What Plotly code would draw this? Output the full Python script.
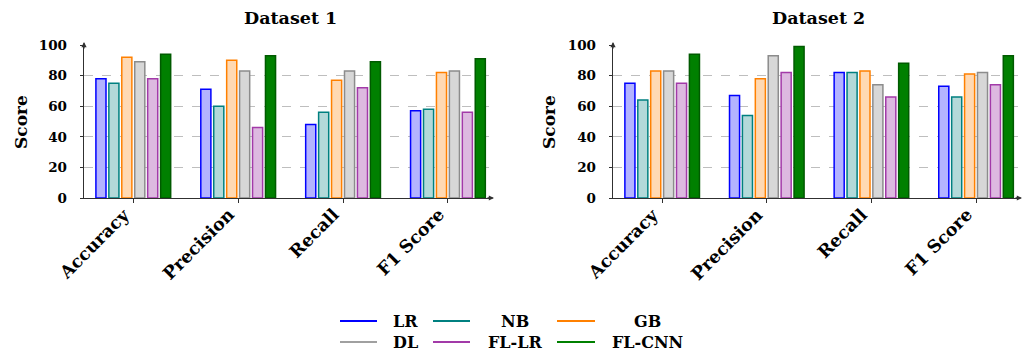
import plotly.graph_objects as go

categories = ["Accuracy", "Precision", "Recall", "F1 Score"]
models = ["LR", "NB", "GB", "DL", "FL-LR", "FL-CNN"]

ds1_LR = [78, 71, 48, 57]
ds1_NB = [75, 60, 56, 58]
ds1_GB = [92, 90, 77, 82]
ds1_DL = [89, 83, 83, 83]
ds1_FLLR = [78, 46, 72, 56]
ds1_FLCNN = [94, 93, 89, 91]

ds2_LR = [75, 67, 82, 73]
ds2_NB = [64, 54, 82, 66]
ds2_GB = [83, 78, 83, 81]
ds2_DL = [83, 93, 74, 82]
ds2_FLLR = [75, 82, 66, 74]
ds2_FLCNN = [94, 99, 88, 93]

y_ticks = [0, 20, 40, 60, 80, 100]

border_colors = ["#0000ff", "#008080", "#ff8000", "#8c8c8c", "#a23aa8", "#005a00"]
fill_colors = ["rgb(179,179,255)", "rgb(179,217,217)", "rgb(255,217,179)",
               "rgb(215,215,215)", "rgb(221,185,224)", "rgb(0,128,0)"]
legend_colors = ["#0000ff", "#008080", "#ff8000", "#a0a0a0", "#a23aa8", "#008000"]

ds1 = [ds1_LR, ds1_NB, ds1_GB, ds1_DL, ds1_FLLR, ds1_FLCNN]
ds2 = [ds2_LR, ds2_NB, ds2_GB, ds2_DL, ds2_FLLR, ds2_FLCNN]

FONT = "DejaVu Serif"
W, H = 1030, 356
AXC = "#303030"

fig = go.Figure()
for data, xa, ya in [(ds1, "x", "y"), (ds2, "x2", "y2")]:
    for i, m in enumerate(models):
        fig.add_trace(go.Bar(
            x=categories, y=data[i], name=m, xaxis=xa, yaxis=ya,
            marker=dict(color=fill_colors[i], line=dict(color=border_colors[i], width=1.5)),
            showlegend=False,
        ))

def px_x(p):
    return p / W

def px_y(p):
    return 1 - p / H

dom1 = [px_x(84), px_x(492)]
dom2 = [px_x(613), px_x(1020)]
ydom = [px_y(198), px_y(45)]

xcommon = dict(
    type="category", range=[-0.47, 3.42], showline=True, linecolor=AXC, linewidth=1.3,
    ticks="outside", ticklen=4, tickcolor=AXC, showticklabels=False, automargin=False,
    showgrid=False, zeroline=False, fixedrange=True,
)
ycommon = dict(
    range=[0, 100], tickvals=y_ticks, showline=True, linecolor=AXC, linewidth=1.3,
    ticks="outside", ticklen=3, tickcolor=AXC,
    tickfont=dict(family=FONT, size=13.5, color="black", weight="bold"),
    showgrid=True, gridcolor="rgb(190,190,190)", griddash="dash", gridwidth=1,
    zeroline=False, ticklabelstandoff=10, fixedrange=True, automargin=False,
)

fig.update_layout(
    width=W, height=H, autosize=False,
    margin=dict(l=0, r=0, t=0, b=0, pad=0),
    paper_bgcolor="white", plot_bgcolor="white",
    barmode="group", bargap=0.26, bargroupgap=0.22,
    showlegend=False,
    xaxis=dict(domain=dom1, anchor="y", **xcommon),
    yaxis=dict(domain=ydom, anchor="x", **ycommon),
    xaxis2=dict(domain=dom2, anchor="y2", **xcommon),
    yaxis2=dict(domain=ydom, anchor="x2", **ycommon),
)

annotations = []
shapes = []
# rotated category labels
for xr, yr in [("x", "y"), ("x2", "y2")]:
    for cat in categories:
        annotations.append(dict(x=cat, y=0, xref=xr, yref=yr, text=cat, textangle=-45,
                                xanchor="right", yanchor="top", xshift=3, yshift=-4,
                                showarrow=False,
                                font=dict(family=FONT, size=17.5, color="black", weight="bold")))

# titles and y-axis labels
for cx, label, sx in [(290, "Dataset 1", 21), (818, "Dataset 2", 549)]:
    annotations.append(dict(x=px_x(cx), y=px_y(18), xref="paper", yref="paper", text=label,
                            xanchor="center", yanchor="middle",
                            showarrow=False, font=dict(family=FONT, size=17.5, color="black", weight="bold")))
    annotations.append(dict(x=px_x(sx), y=px_y(122), xref="paper", yref="paper", text="Score",
                            xanchor="center", yanchor="middle",
                            textangle=-90, showarrow=False,
                            font=dict(family=FONT, size=17, color="black", weight="bold")))

# axis arrowheads
for (x0, x1) in [(84, 492), (613, 1020)]:
    annotations.append(dict(x=px_x(x1 + 2), y=px_y(198), ax=-8, ay=0,
                            xref="paper", yref="paper", axref="pixel", ayref="pixel", text="",
                            showarrow=True, arrowhead=2, arrowsize=0.8, arrowwidth=1.3, arrowcolor=AXC))
    annotations.append(dict(x=px_x(x0), y=px_y(42), ax=0, ay=8,
                            xref="paper", yref="paper", axref="pixel", ayref="pixel", text="",
                            showarrow=True, arrowhead=2, arrowsize=0.8, arrowwidth=1.3, arrowcolor=AXC))

# legend (3 columns x 2 rows) with line samples
col_line_x = [(340, 377), (433, 470), (557, 595)]
col_text_x = [405, 515, 647]
row_y = [321, 342]
for i, m in enumerate(models):
    r, c = divmod(i, 3)
    lx0, lx1 = col_line_x[c]
    shapes.append(dict(type="line", xref="paper", yref="paper",
                       x0=px_x(lx0), x1=px_x(lx1), y0=px_y(row_y[r]), y1=px_y(row_y[r]),
                       line=dict(color=legend_colors[i], width=1.8)))
    annotations.append(dict(x=px_x(col_text_x[c]), y=px_y(row_y[r]), xref="paper", yref="paper",
                            text=m, showarrow=False, xanchor="center", yanchor="middle",
                            font=dict(family=FONT, size=16, color="black", weight="bold")))

fig.update_layout(annotations=annotations, shapes=shapes)
fig.write_html("out.html", config={"displayModeBar": False, "staticPlot": True},
               post_script="document.body.style.margin='0';document.body.style.overflow='hidden';")
